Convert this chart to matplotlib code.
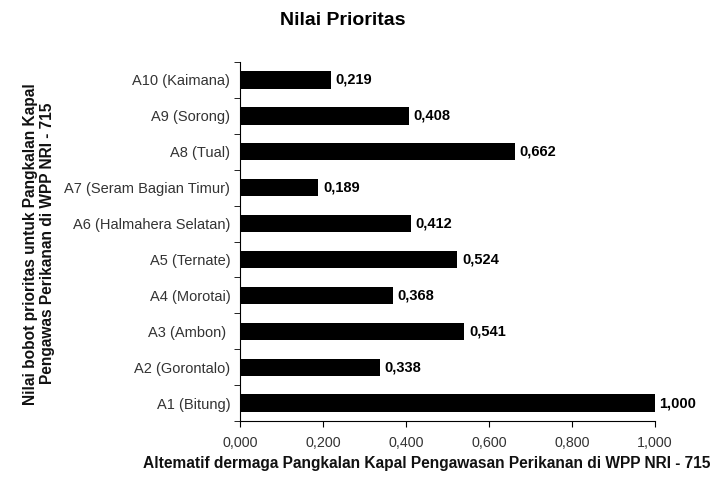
import matplotlib.pyplot as plt

plt.rcParams['font.family'] = ['Liberation Sans', 'DejaVu Sans']

categories = ["A1 (Bitung)", "A2 (Gorontalo)", "A3 (Ambon) ", "A4 (Morotai)",
              "A5 (Ternate)", "A6 (Halmahera Selatan)", "A7 (Seram Bagian Timur)",
              "A8 (Tual)", "A9 (Sorong)", "A10 (Kaimana)"]
values = [1.000, 0.338, 0.541, 0.368, 0.524, 0.412, 0.189, 0.662, 0.408, 0.219]
xticks = [0.0, 0.2, 0.4, 0.6, 0.8, 1.0]


def fmt(v):
    return f"{v:.3f}".replace(".", ",")


fig = plt.figure(figsize=(7.17, 4.78), dpi=100)
ax = fig.add_axes([0.3347, 0.1192, 0.5788, 0.751])

ypos = range(len(categories))
ax.barh(ypos, values, height=0.48, color="black")
for y, v in zip(ypos, values):
    ax.text(v + 0.011, y, fmt(v), va="center", ha="left",
            fontsize=10.5, fontweight="bold", color="black")

ax.set_xlim(0, 1.0)
ax.set_ylim(-0.5, len(categories) - 0.5)
ax.set_xticks(xticks)
ax.set_xticklabels([fmt(t) for t in xticks], fontsize=10.3, color="#333333")
ax.set_yticks(list(ypos))
ax.set_yticklabels(categories, fontsize=10.5, color="#333333")
ax.set_yticks([i - 0.5 for i in range(len(categories) + 1)], minor=True)
ax.tick_params(axis="y", which="major", length=0, pad=7)
ax.tick_params(axis="y", which="minor", length=4, direction="out")
ax.tick_params(axis="x", length=4, direction="out", pad=7)

for s in ["top", "right"]:
    ax.spines[s].set_visible(False)

fig.text(0.478, 0.957, "Nilai Prioritas", ha="center", va="center",
         fontsize=14, fontweight="bold")
fig.text(0.595, 0.014, "Altematif dermaga Pangkalan Kapal Pengawasan Perikanan di WPP NRI - 715",
         ha="center", va="bottom", fontsize=11.2, fontweight="bold", color="#111111")
fig.text(0.054, 0.49, "Nilai bobot prioritas untuk Pangkalan Kapal\nPengawas Perikanan di WPP NRI - 715",
         ha="center", va="center", rotation=90, fontsize=11.2, fontweight="bold",
         linespacing=1.15, color="#111111")

fig.savefig("out.png", dpi=100)
